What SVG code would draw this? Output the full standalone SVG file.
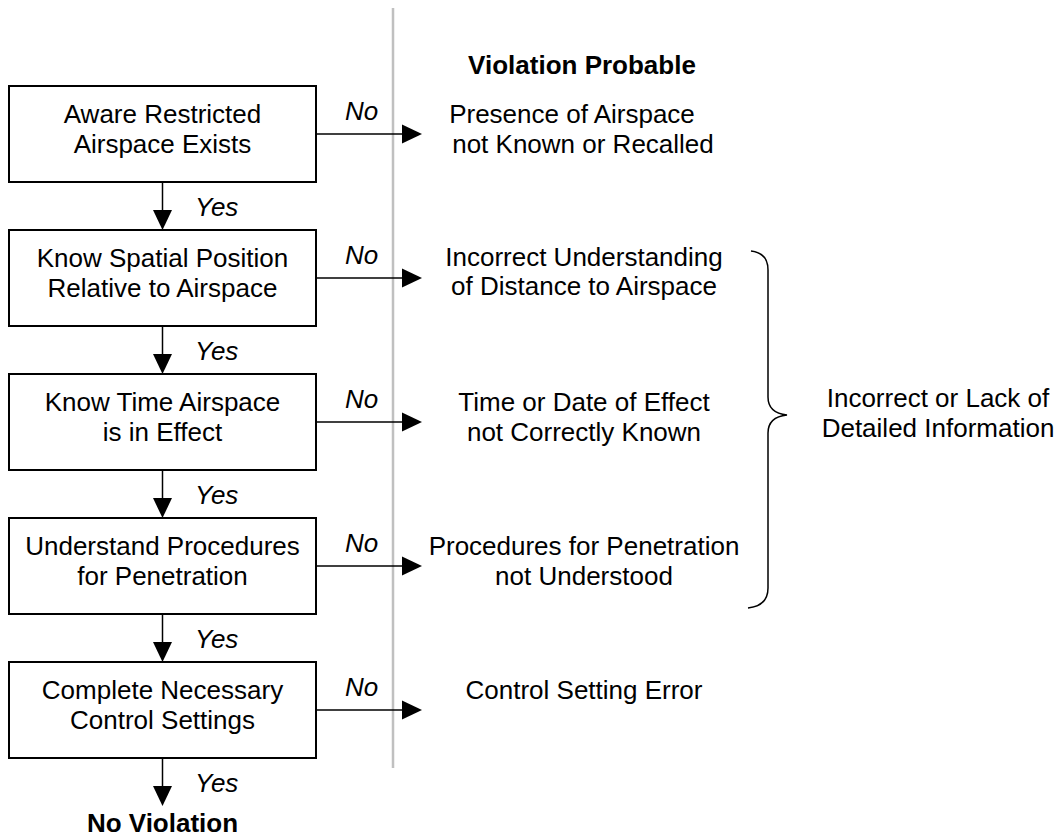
<svg xmlns="http://www.w3.org/2000/svg" width="1061" height="838" viewBox="0 0 1061 838">
<style>
text{font-family:"Liberation Sans",Arial,sans-serif;font-size:26px;fill:#000}
.c{text-anchor:middle}
.i{font-style:italic}
.b{font-weight:bold}
.box{fill:#fff;stroke:#000;stroke-width:2}
.ln{stroke:#000;stroke-width:1.5;fill:none}
</style>
<defs>
<marker id="ah" markerUnits="userSpaceOnUse" markerWidth="20" markerHeight="20" refX="0" refY="9.5" orient="auto" viewBox="0 0 20 19">
<path d="M0,0 L20,9.5 L0,19 z" fill="#000"/>
</marker>
</defs>
<line x1="393" y1="8" x2="393" y2="768" stroke="#c0c0c0" stroke-width="2.5"/>
<text class="c b" x="582" y="74">Violation Probable</text>
<g id="connectors">
<line class="ln" x1="162.5" y1="182" x2="162.5" y2="210" marker-end="url(#ah)"/>
<line class="ln" x1="162.5" y1="326" x2="162.5" y2="354" marker-end="url(#ah)"/>
<line class="ln" x1="162.5" y1="470" x2="162.5" y2="498" marker-end="url(#ah)"/>
<line class="ln" x1="162.5" y1="614" x2="162.5" y2="642" marker-end="url(#ah)"/>
<line class="ln" x1="162.5" y1="758" x2="162.5" y2="786" marker-end="url(#ah)"/>
<line class="ln" x1="316" y1="134" x2="402" y2="134" marker-end="url(#ah)"/>
<line class="ln" x1="316" y1="278" x2="402" y2="278" marker-end="url(#ah)"/>
<line class="ln" x1="316" y1="422" x2="402" y2="422" marker-end="url(#ah)"/>
<line class="ln" x1="316" y1="566" x2="402" y2="566" marker-end="url(#ah)"/>
<line class="ln" x1="316" y1="710" x2="402" y2="710" marker-end="url(#ah)"/>
<text class="i" x="195" y="216">Yes</text>
<text class="i" x="195" y="360">Yes</text>
<text class="i" x="195" y="504">Yes</text>
<text class="i" x="195" y="648">Yes</text>
<text class="i" x="195" y="792">Yes</text>
<text class="i" x="345" y="120">No</text>
<text class="i" x="345" y="264">No</text>
<text class="i" x="345" y="408">No</text>
<text class="i" x="345" y="552">No</text>
<text class="i" x="345" y="696">No</text>
</g>
<g id="n1">
<rect class="box" x="9" y="86" width="307" height="96"/>
<text class="c" x="162.5" y="122.5">Aware Restricted</text>
<text class="c" x="162.5" y="152.5">Airspace Exists</text>
</g>
<g id="n2">
<rect class="box" x="9" y="230" width="307" height="96"/>
<text class="c" x="162.5" y="266.5">Know Spatial Position</text>
<text class="c" x="162.5" y="296.5">Relative to Airspace</text>
</g>
<g id="n3">
<rect class="box" x="9" y="374" width="307" height="96"/>
<text class="c" x="162.5" y="410.5">Know Time Airspace</text>
<text class="c" x="162.5" y="440.5">is in Effect</text>
</g>
<g id="n4">
<rect class="box" x="9" y="518" width="307" height="96"/>
<text class="c" x="162.5" y="554.5">Understand Procedures</text>
<text class="c" x="162.5" y="584.5">for Penetration</text>
</g>
<g id="n5">
<rect class="box" x="9" y="662" width="307" height="96"/>
<text class="c" x="162.5" y="698.5">Complete Necessary</text>
<text class="c" x="162.5" y="728.5">Control Settings</text>
</g>
<g id="end">
<text class="c b" x="162.5" y="832">No Violation</text>
</g>
<g id="r1">
<text class="c" x="572" y="122.5">Presence of Airspace</text>
<text class="c" x="583" y="152.5">not Known or Recalled</text>
</g>
<g id="r2">
<text class="c" x="584" y="266">Incorrect Understanding</text>
<text class="c" x="584" y="295">of Distance to Airspace</text>
</g>
<g id="r3">
<text class="c" x="584" y="410.5">Time or Date of Effect</text>
<text class="c" x="584" y="440.5">not Correctly Known</text>
</g>
<g id="r4">
<text class="c" x="584" y="554.5">Procedures for Penetration</text>
<text class="c" x="584" y="584.5">not Understood</text>
</g>
<g id="r5">
<text class="c" x="584" y="698.5">Control Setting Error</text>
</g>
<g id="brace">
<path class="ln" d="M751,251 Q768,253 768,270 L768,397 Q768,413 787,415 Q768,417 768,433 L768,588 Q768,606 748,608"/>
<text class="c" x="938" y="407">Incorrect or Lack of</text>
<text class="c" x="938" y="437">Detailed Information</text>
</g>
</svg>
